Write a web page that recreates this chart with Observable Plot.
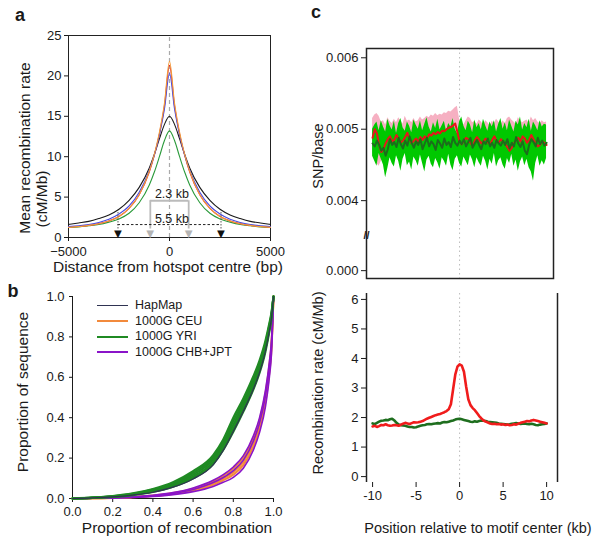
<!DOCTYPE html>
<html><head><meta charset="utf-8">
<script src="https://cdn.jsdelivr.net/npm/d3@7"></script>
<script src="https://cdn.jsdelivr.net/npm/@observablehq/plot@0.6"></script>
<style>
body{margin:0;background:#fff;}
#fig{position:relative;width:600px;height:542px;font-family:"Liberation Sans",Arial,sans-serif;color:#1a1a1a;overflow:hidden;}
#fig svg{position:absolute;}
.t{position:absolute;white-space:nowrap;line-height:1;}
.rot{transform:translate(-50%,-50%) rotate(-90deg);}
.ctr{transform:translate(-50%,-50%);}
.lbl{font-weight:bold;font-size:18px;}
.leg{position:absolute;left:97px;top:298px;font-size:12.5px;}
.leg div{height:15.5px;line-height:15.5px;white-space:nowrap;}
.leg span{display:inline-block;width:31px;height:0;vertical-align:middle;margin-right:7px;}
</style></head><body><div id="fig"></div><script>
// ---------- Panel a data ----------
const aX = [-5000,-4500,-4000,-3500,-3000,-2500,-2000,-1500,-1000,-750,-500,-250,0,250,500,750,1000,1500,2000,2500,3000,3500,4000,4500,5000];
const aHapMap = [1.62,1.8,2.0,2.35,2.8,3.5,4.6,6.2,8.6,10.3,12.2,14.0,15.0,14.0,12.2,10.3,8.6,6.2,4.6,3.5,2.8,2.35,2.0,1.8,1.62];
const aCEU    = [1.25,1.35,1.5,1.7,2.05,2.6,3.6,5.3,8.2,10.3,13.0,16.6,21.8,16.6,13.0,10.3,8.2,5.3,3.6,2.6,2.05,1.7,1.5,1.35,1.25];
const aRed    = [1.28,1.37,1.5,1.72,2.05,2.6,3.6,5.3,8.1,10.2,12.8,16.3,21.3,16.3,12.8,10.2,8.1,5.3,3.6,2.6,2.05,1.72,1.5,1.37,1.28];
const aBlue   = [1.35,1.45,1.6,1.85,2.25,2.9,3.9,5.6,8.3,10.2,12.7,15.9,20.3,15.9,12.7,10.2,8.3,5.6,3.9,2.9,2.25,1.85,1.6,1.45,1.35];
const aYRI    = [1.25,1.32,1.45,1.6,1.9,2.3,3.0,4.3,6.5,8.1,10.0,12.0,13.2,12.0,10.0,8.1,6.5,4.3,3.0,2.3,1.9,1.6,1.45,1.32,1.25];
const aYTicks = [0,5,10,15,20,25];
const aXTicks = [-5000,0,5000];
const aInnerSpan = [-950, 950];   // 2.3 kb bar ends (bp)
const aInnerY = [4.55];
const aOuterSpan = [-2550, 2550]; // 5.5 kb line ends (bp)
const aOuterY = [1.6];
const aOuterTop = [3.3];
const aArrowY = [0.45];
const aLabels = [{x:120, y:5.35, t:"2.3 kb"}, {x:120, y:2.3, t:"5.5 kb"}];

// ---------- Panel b data ----------
const bX = [0,0.1,0.2,0.3,0.4,0.5,0.6,0.7,0.75,0.8,0.85,0.9,0.93,0.96,0.98,0.99,1.0];
const bYRI = [
  [0,0.003,0.008,0.017,0.032,0.058,0.100,0.170,0.240,0.330,0.430,0.540,0.620,0.728,0.830,0.893,1.0],
  [0,0.003,0.009,0.019,0.036,0.064,0.108,0.181,0.253,0.347,0.447,0.556,0.636,0.742,0.840,0.900,1.0],
  [0,0.004,0.010,0.021,0.040,0.070,0.117,0.193,0.266,0.364,0.463,0.572,0.651,0.755,0.850,0.907,1.0],
  [0,0.004,0.011,0.023,0.044,0.076,0.126,0.204,0.279,0.382,0.479,0.588,0.666,0.768,0.860,0.914,1.0],
  [0,0.005,0.012,0.025,0.047,0.081,0.135,0.215,0.292,0.400,0.495,0.605,0.682,0.781,0.870,0.921,1.0]
];
const bCEU = [
  [0,0.001,0.003,0.006,0.012,0.022,0.039,0.068,0.090,0.118,0.165,0.258,0.345,0.478,0.628,0.738,1.0],
  [0,0.001,0.003,0.007,0.013,0.024,0.043,0.075,0.099,0.130,0.180,0.275,0.362,0.498,0.648,0.755,1.0],
  [0,0.001,0.004,0.008,0.015,0.027,0.049,0.085,0.112,0.148,0.202,0.298,0.385,0.522,0.668,0.772,1.0]
];
const bCHB = [
  [0,0.001,0.002,0.005,0.010,0.019,0.034,0.060,0.080,0.105,0.150,0.240,0.325,0.455,0.605,0.718,1.0],
  [0,0.001,0.003,0.007,0.013,0.025,0.045,0.079,0.104,0.138,0.190,0.285,0.372,0.508,0.656,0.760,1.0],
  [0,0.001,0.004,0.009,0.016,0.029,0.052,0.090,0.118,0.156,0.212,0.310,0.398,0.535,0.680,0.782,1.0]
];
const bHapMap = [
  [0,0.003,0.008,0.017,0.031,0.056,0.097,0.167,0.238,0.332,0.432,0.542,0.622,0.730,0.832,0.894,1.0]
];
const bTicks = [0,0.2,0.4,0.6,0.8,1.0];
const bLegend = ["HapMap","1000G CEU","1000G YRI","1000G CHB+JPT"];
const bColors = ["#2f3352","#f28a3c","#1f8a23","#8a14c8"];

// ---------- Panel c data ----------
// SNP/base, units of 1e-5, every 0.25 kb from -10 to 10 kb
const cSnpPinkHi = [515,520,522,518,510,512,506,516,511,508,514,509,516,512,507,518,511,513,509,515,510,512,517,513,515,518,516,520,518,522,519,521,520,523,522,525,524,527,530,532,514,510,506,512,517,515,509,511,507,513,510,506,512,509,505,511,508,514,510,506,512,508,515,517,513,510,507,516,512,509,511,513,508,517,512,515,510,508,512,509,510];
const cSnpPinkLo = [466,460,452,448,455,462,468,466,470,465,468,472,466,470,474,468,471,467,473,469,472,468,474,470,475,471,476,473,477,474,478,475,479,476,480,477,479,481,482,478,470,466,472,468,473,469,466,471,467,472,468,471,466,470,473,468,472,467,470,474,469,466,470,468,472,467,471,469,473,470,468,472,466,470,474,469,472,468,471,467,470];
const cSnpGreenHi = [500,506,510,498,512,503,496,514,505,499,511,494,508,515,502,497,510,504,495,513,506,500,512,498,507,516,503,496,509,501,514,499,505,511,497,508,503,515,500,494,510,517,504,498,511,506,495,513,502,508,499,514,505,497,510,503,512,496,507,515,500,509,498,513,504,496,511,506,517,499,508,502,514,497,510,505,498,512,503,507,506];
const cSnpGreenLo = [462,455,448,466,458,450,432,445,460,452,447,463,455,441,458,466,449,454,443,461,456,448,464,452,440,457,462,451,446,459,453,444,460,455,448,465,450,442,458,463,452,447,461,455,449,464,457,446,460,453,448,462,455,443,458,451,466,447,456,460,450,444,459,452,465,448,457,441,454,461,449,458,446,440,427,452,463,448,456,450,459];
const cSnpRed = [488,500,494,478,468,472,480,486,490,483,485,492,487,481,484,489,495,486,480,484,487,482,489,485,490,487,493,491,495,493,496,494,498,497,500,502,503,505,508,496,482,479,484,488,486,481,476,484,489,485,480,483,487,482,478,485,490,484,481,486,483,479,475,470,474,480,485,488,483,490,487,481,485,492,486,480,476,478,483,481,478];
const cSnpDark = [480,476,484,478,470,474,463,472,486,478,482,475,488,479,473,484,477,490,481,474,483,478,486,472,480,488,476,483,479,471,485,480,474,487,478,482,475,489,481,477,484,479,486,476,482,488,474,480,485,478,472,483,479,487,476,481,474,485,480,477,484,478,486,473,481,476,489,480,475,483,470,465,478,486,482,476,488,479,484,477,481];
const cRecRed = [1.70,1.72,1.68,1.71,1.75,1.74,1.77,1.74,1.72,1.73,1.75,1.74,1.72,1.76,1.79,1.82,1.80,1.78,1.81,1.84,1.83,1.84,1.86,1.88,1.92,1.96,1.99,2.02,2.05,2.08,2.10,2.12,2.15,2.18,2.22,2.28,2.45,2.95,3.45,3.72,3.80,3.76,3.55,3.05,2.62,2.42,2.32,2.25,2.15,2.05,1.97,1.90,1.86,1.83,1.80,1.78,1.79,1.77,1.78,1.76,1.77,1.75,1.76,1.74,1.75,1.77,1.76,1.79,1.82,1.84,1.86,1.88,1.87,1.90,1.92,1.90,1.88,1.86,1.84,1.82,1.80];
const cRecDark = [1.80,1.78,1.82,1.86,1.89,1.90,1.92,1.91,1.94,1.96,1.90,1.82,1.76,1.74,1.73,1.72,1.70,1.68,1.68,1.66,1.67,1.70,1.72,1.74,1.75,1.77,1.78,1.77,1.79,1.80,1.81,1.80,1.83,1.85,1.84,1.86,1.88,1.90,1.93,1.95,1.96,1.94,1.92,1.90,1.88,1.86,1.85,1.87,1.86,1.88,1.90,1.89,1.88,1.86,1.85,1.84,1.83,1.82,1.80,1.79,1.78,1.77,1.76,1.77,1.79,1.80,1.81,1.80,1.78,1.79,1.80,1.78,1.77,1.79,1.77,1.75,1.74,1.76,1.77,1.78,1.80];
const cTopTickVals = [0.00302, 0.004, 0.005, 0.006];
const cTopTickLabels = ["0.000","0.004","0.005","0.006"];
const cBotYTicks = [0,1,2,3,4,5,6];
const cXTicks = [-10,-5,0,5,10];

// ---------- Layout helpers ----------
const fig = document.getElementById("fig");
const FONT = "'Liberation Sans', Arial, sans-serif";
function place(svg, left, top) {
  svg.style.left = left + "px"; svg.style.top = top + "px";
  svg.style.maxWidth = "none"; svg.style.background = "transparent";
  fig.appendChild(svg);
}
const baseStyle = {fontSize: "13px", fontFamily: FONT, color: "#1a1a1a", background: "transparent"};

// ---------- Panel a ----------
const line = (vals) => aX.map((x, i) => ({x, y: vals[i]}));
const aPlot = Plot.plot({
  width: 290, height: 280,
  marginLeft: 68, marginRight: 20, marginTop: 35, marginBottom: 43,
  style: baseStyle,
  x: {domain: [-5000, 5000], ticks: aXTicks, tickFormat: "d", tickSize: 4, label: null},
  y: {domain: [0, 25], ticks: aYTicks, tickSize: 4, tickPadding: 3, label: null},
  marks: [
    Plot.frame({stroke: "#222", strokeWidth: 1}),
    Plot.ruleX([0], {y1: 0, y2: 25, stroke: "#aaa", strokeDasharray: "4,3", strokeWidth: 1.2}),
    Plot.line(line(aHapMap), {x: "x", y: "y", stroke: "#1a1a1a", strokeWidth: 1.1, curve: "monotone-x"}),
    Plot.line(line(aYRI), {x: "x", y: "y", stroke: "#2a9a3a", strokeWidth: 1.1, curve: "monotone-x"}),
    Plot.line(line(aRed), {x: "x", y: "y", stroke: "#e02a2a", strokeWidth: 1.1, curve: "monotone-x"}),
    Plot.line(line(aBlue), {x: "x", y: "y", stroke: "#4a4ae0", strokeWidth: 1.1, curve: "monotone-x"}),
    Plot.line(line(aCEU), {x: "x", y: "y", stroke: "#f39a3a", strokeWidth: 1.1, curve: "monotone-x"}),
    Plot.ruleY(aInnerY, {x1: aInnerSpan[0], x2: aInnerSpan[1], stroke: "#bbb", strokeWidth: 1.8}),
    Plot.ruleX(aInnerSpan, {y1: aArrowY[0] + 0.6, y2: aInnerY[0], stroke: "#bbb", strokeWidth: 1.8}),
    Plot.ruleY(aOuterY, {x1: aOuterSpan[0], x2: aOuterSpan[1], stroke: "#222", strokeDasharray: "2.5,2", strokeWidth: 1}),
    Plot.ruleX(aOuterSpan, {y1: aArrowY[0] + 0.6, y2: aOuterTop[0], stroke: "#444", strokeDasharray: "1.5,1.5", strokeWidth: 0.9}),
    Plot.text(aInnerSpan.map(x => ({x, y: aArrowY[0]})), {x: "x", y: "y", text: () => "▼", fill: "#b5b5b5", fontSize: 13}),
    Plot.text(aOuterSpan.map(x => ({x, y: aArrowY[0]})), {x: "x", y: "y", text: () => "▼", fill: "#111", fontSize: 13}),
    Plot.text(aLabels, {x: "x", y: "y", text: "t", fontSize: 12.5, fill: "#1a1a1a"})
  ]
});
place(aPlot, 0, 0);

// ---------- Panel b ----------
const bRows = (arrs) => arrs.flatMap((vals, k) => bX.map((x, i) => ({x, y: vals[i], k})));
const bPlot = Plot.plot({
  width: 290, height: 262,
  marginLeft: 72, marginRight: 17, marginTop: 16, marginBottom: 44,
  style: baseStyle,
  x: {domain: [0, 1], ticks: bTicks, tickFormat: ".1f", tickSize: 4, tickPadding: 4, label: null, line: true},
  y: {domain: [0, 1], ticks: bTicks, tickFormat: ".1f", tickSize: 3, tickPadding: 5, label: null, line: true},
  marks: [
    Plot.line(bRows(bCEU), {x: "x", y: "y", z: "k", stroke: bColors[1], strokeWidth: 2, curve: "monotone-x"}),
    Plot.line(bRows(bCHB), {x: "x", y: "y", z: "k", stroke: bColors[3], strokeWidth: 1.6, curve: "monotone-x"}),
    Plot.line(bRows(bYRI), {x: "x", y: "y", z: "k", stroke: bColors[2], strokeWidth: 2.2, curve: "monotone-x"}),
    Plot.line(bRows(bHapMap), {x: "x", y: "y", z: "k", stroke: bColors[0], strokeWidth: 1.2, curve: "monotone-x"})
  ]
});
place(bPlot, 0, 280);

// ---------- Panel c top ----------
const cPos = d3.range(81).map(i => -10 + i * 0.25);
const cTop = cPos.map((x, i) => ({
  x, pinkLo: cSnpPinkLo[i] / 1e5, pinkHi: cSnpPinkHi[i] / 1e5,
  greenLo: cSnpGreenLo[i] / 1e5, greenHi: cSnpGreenHi[i] / 1e5,
  red: cSnpRed[i] / 1e5, dark: cSnpDark[i] / 1e5
}));
const cTopPlot = Plot.plot({
  width: 310, height: 285,
  marginLeft: 76, marginRight: 47, marginTop: 48, marginBottom: 7,
  style: baseStyle,
  x: {domain: [-10.7, 10.8], axis: null},
  y: {domain: [0.00291, 0.00613], ticks: cTopTickVals, tickFormat: d => cTopTickLabels[cTopTickVals.indexOf(d)], tickSize: 5, tickPadding: 3, label: null},
  marks: [
    Plot.ruleX([0], {stroke: "#bbb", strokeDasharray: "1.5,3"}),
    Plot.areaY(cTop, {x: "x", y1: "pinkLo", y2: "pinkHi", fill: "#f6b0c2"}),
    Plot.areaY(cTop, {x: "x", y1: "greenLo", y2: "greenHi", fill: "#00c800"}),
    Plot.line(cTop, {x: "x", y: "red", stroke: "#e8141b", strokeWidth: 2}),
    Plot.line(cTop, {x: "x", y: "dark", stroke: "#1b6e1b", strokeWidth: 2}),
    Plot.frame({stroke: "#222", strokeWidth: 1.5}),
    Plot.text(["//"], {frameAnchor: "left", dy: 72, text: d => d, textAnchor: "middle", fontSize: 11, fill: "#222", fontWeight: "bold"})
  ]
});
place(cTopPlot, 290, 0);

// ---------- Panel c bottom ----------
const cBot = cPos.map((x, i) => ({x, red: cRecRed[i], dark: cRecDark[i]}));
const cBotXDomain = [-10.7, 11.25];
const cBotPlot = Plot.plot({
  width: 310, height: 257,
  marginLeft: 76, marginRight: 43, marginTop: 8, marginBottom: 60,
  style: baseStyle,
  x: {domain: cBotXDomain, ticks: cXTicks, tickFormat: d => String(d), tickSize: 5, tickPadding: 3, label: null},
  y: {domain: [-0.2, 6.2], ticks: cBotYTicks, tickFormat: "d", tickSize: 5, tickPadding: 3, label: null},
  marks: [
    Plot.ruleX([0], {stroke: "#bbb", strokeDasharray: "1.5,3"}),
    Plot.ruleX(cBotXDomain, {stroke: "#222", strokeWidth: 1.5}),
    Plot.line(cBot, {x: "x", y: "dark", stroke: "#1e6e1e", strokeWidth: 2.6}),
    Plot.line(cBot, {x: "x", y: "red", stroke: "#f01c1c", strokeWidth: 2.6})
  ]
});
place(cBotPlot, 290, 285);

// ---------- Titles and labels (HTML) ----------
function txt(s, x, y, cls, size) {
  const d = document.createElement("div");
  d.className = "t " + cls; d.textContent = s;
  d.style.left = x + "px"; d.style.top = y + "px";
  if (size) d.style.fontSize = size + "px";
  fig.appendChild(d);
}
txt("a", 20, 15, "ctr lbl");
txt("b", 13, 291, "ctr lbl");
txt("c", 316, 12, "ctr lbl");
txt("Mean recombination rate", 25, 148, "rot", 15.5);
txt("(cM/Mb)", 42, 199, "rot", 15.5);
txt("Distance from hotspot centre (bp)", 168, 267, "ctr", 15.5);
txt("Proportion of sequence", 23, 392, "rot", 15.5);
txt("Proportion of recombination", 177, 528, "ctr", 15.5);
txt("SNP/base", 318, 156, "rot", 14.5);
txt("Recombination rate (cM/Mb)", 318, 383, "rot", 14.5);
txt("Position relative to motif center (kb)", 478, 528, "ctr", 14.5);

// legend for panel b
const leg = document.createElement("div");
leg.className = "leg";
bLegend.forEach((name, i) => {
  const row = document.createElement("div");
  const sw = document.createElement("span");
  sw.style.borderTop = (i === 0 ? 1.5 : 2.5) + "px solid " + bColors[i];
  row.appendChild(sw);
  row.appendChild(document.createTextNode(name));
  leg.appendChild(row);
});
fig.appendChild(leg);
</script></body></html>
